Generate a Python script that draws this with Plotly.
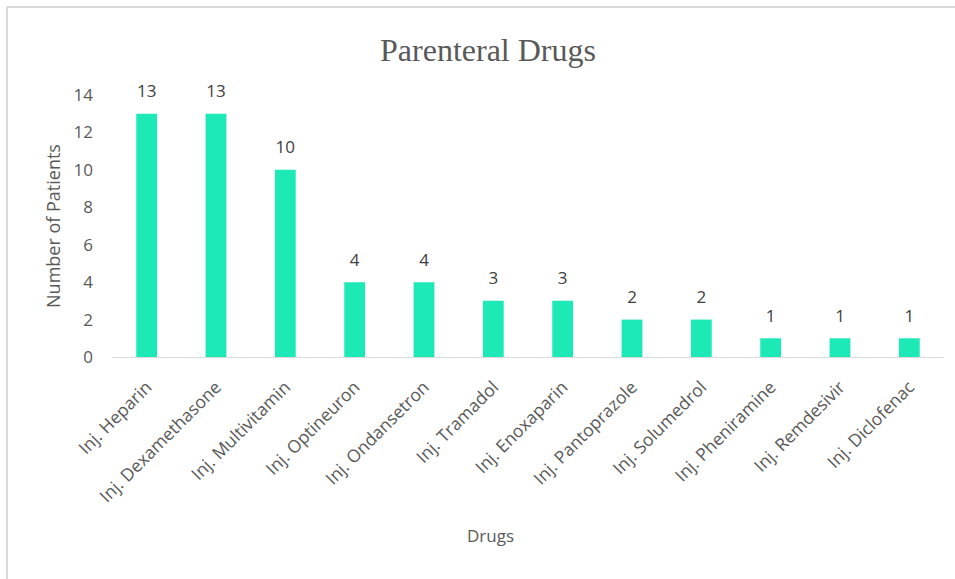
import plotly.graph_objects as go

drugs = [
    "Inj. Heparin", "Inj. Dexamethasone", "Inj. Multivitamin", "Inj. Optineuron",
    "Inj. Ondansetron", "Inj. Tramadol", "Inj. Enoxaparin", "Inj. Pantoprazole",
    "Inj. Solumedrol", "Inj. Pheniramine", "Inj. Remdesivir", "Inj. Diclofenac",
]
patients = [13, 13, 10, 4, 4, 3, 3, 2, 2, 1, 1, 1]
y_ticks = [0, 2, 4, 6, 8, 10, 12, 14]

GRAY = "#595959"
SANS = "Open Sans"

W, H = 955, 579
ML, MR, MT, MB = 112, 11, 95, 222
PW, PH = W - ML - MR, H - MT - MB


def px_x(p):
    return (p - ML) / PW


def px_y(p):
    return (H - MB - p) / PH


fig = go.Figure()
fig.add_trace(
    go.Bar(
        x=drugs,
        y=patients,
        marker=dict(color="#1de9b6", line=dict(width=0)),
        width=0.3,
        hoverinfo="x+y",
    )
)
# value labels sitting above each bar
fig.add_trace(
    go.Scatter(
        x=drugs,
        y=patients,
        mode="markers+text",
        marker=dict(size=18, opacity=0),
        text=[str(v) for v in patients],
        textposition="top center",
        textfont=dict(family=SANS, size=17, color="#404040"),
        cliponaxis=False,
        hoverinfo="skip",
    )
)

border = dict(color="#d9d9d9", width=2)
fig.update_layout(
    width=W,
    height=H,
    paper_bgcolor="white",
    plot_bgcolor="white",
    margin=dict(l=ML, r=MR, t=MT, b=MB, autoexpand=False),
    showlegend=False,
    title=dict(
        text="Parenteral Drugs",
        font=dict(family="Liberation Serif", size=32, color=GRAY),
        x=488 / W,
        xanchor="center",
        y=1 - 50 / H,
        yanchor="middle",
    ),
    shapes=[
        dict(type="line", xref="paper", yref="paper",
             x0=px_x(7), x1=px_x(W + 5), y0=px_y(7), y1=px_y(7), line=border),
        dict(type="line", xref="paper", yref="paper",
             x0=px_x(7), x1=px_x(7), y0=px_y(7), y1=px_y(H + 5), line=border),
    ],
    annotations=[
        dict(text="Drugs", xref="paper", yref="paper", x=px_x(490), y=px_y(535),
             xanchor="center", yanchor="middle", showarrow=False,
             font=dict(family=SANS, size=17, color=GRAY)),
    ],
)

fig.update_xaxes(
    automargin=False,
    range=[-0.5, len(drugs) - 0.5],
    tickangle=-45,
    tickfont=dict(family=SANS, size=17.5, color=GRAY),
    ticklabelstandoff=12,
    showline=True,
    linecolor="#d9d9d9",
    linewidth=1,
    showgrid=False,
    ticks="",
)

fig.update_yaxes(
    automargin=False,
    range=[0, 14],
    tickvals=y_ticks,
    tickfont=dict(family=SANS, size=17, color=GRAY),
    showgrid=False,
    zeroline=False,
    showline=False,
    ticklabelstandoff=18,
    title=dict(text="Number of Patients", font=dict(family=SANS, size=18, color=GRAY), standoff=8),
)

fig.write_html("out.html")
